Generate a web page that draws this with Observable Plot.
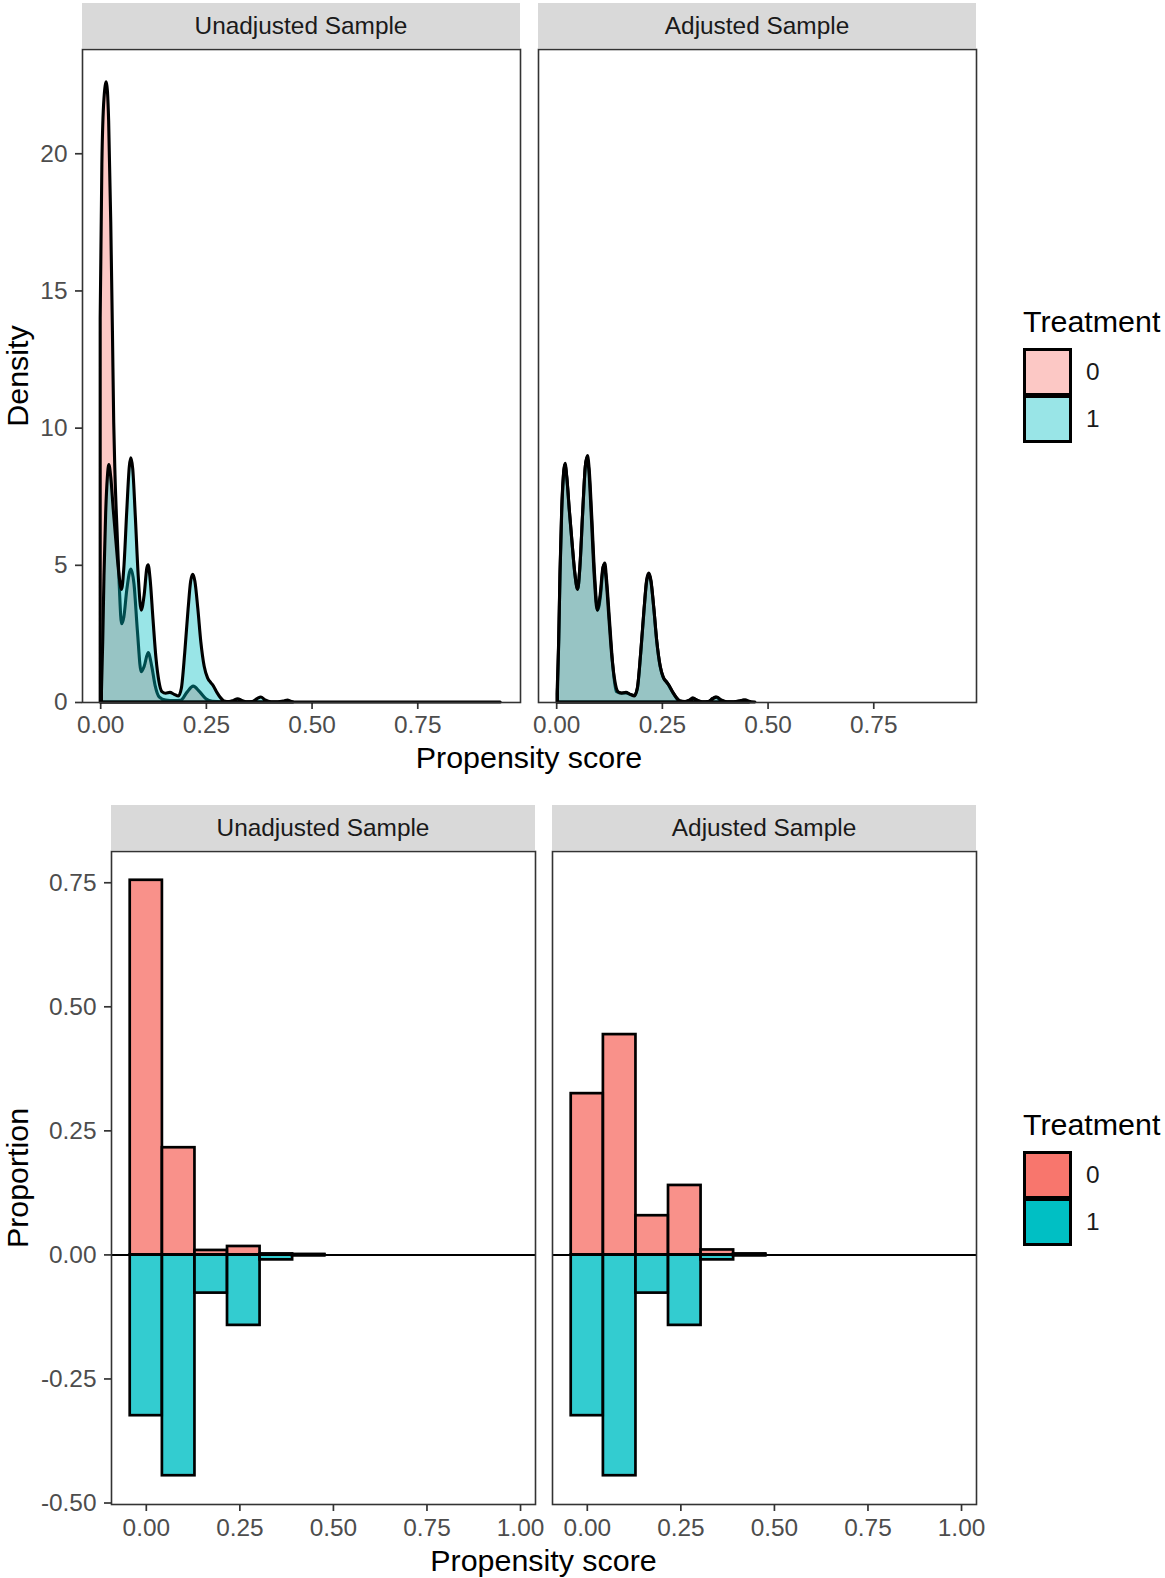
<!DOCTYPE html>
<html>
<head>
<meta charset="utf-8">
<script src="https://cdn.jsdelivr.net/npm/d3@7"></script>
<script src="https://cdn.jsdelivr.net/npm/@observablehq/plot@0.6"></script>
<style>
  body { margin: 0; background: #fff; }
  #root { position: relative; width: 1165px; height: 1578px; overflow: hidden; background: #fff;
          font-family: "Liberation Sans", Arial, sans-serif; }
  .box { position: absolute; }
  .strip { position: absolute; background: #D9D9D9; color: #1A1A1A; font-size: 24.4px;
           display: flex; align-items: center; justify-content: center; white-space: nowrap; }
  .title { position: absolute; font-size: 30.4px; color: #000; white-space: nowrap; line-height: 1; }
  .lab { position: absolute; font-size: 24.4px; color: #1A1A1A; line-height: 1; }
  .key { position: absolute; border: 3px solid #000; box-sizing: border-box; }
</style>
</head>
<body>
<div id="root"></div>
<script>
// ---------------- data ----------------
const facets = ["Unadjusted Sample", "Adjusted Sample"];
const treatmentLevels = ["0", "1"];
const densityTicks = [0, 5, 10, 15, 20];
const scoreTicksTop = [0, 0.25, 0.5, 0.75];
const scoreTicksBottom = [0, 0.25, 0.5, 0.75, 1];
const proportionTicks = [-0.5, -0.25, 0, 0.25, 0.5, 0.75];

// density curves: [propensity score, density]
const densUnadjControl = [
  [0.000, 14.0], [0.004, 19.6], [0.009, 22.0], [0.0145, 22.6], [0.020, 21.2], [0.025, 17.5],
  [0.029, 13.5], [0.032, 10.2], [0.035, 8.3], [0.040, 6.2], [0.045, 4.3], [0.0505, 2.85],
  [0.056, 3.1], [0.063, 4.1], [0.0725, 4.85], [0.080, 4.3], [0.088, 2.6], [0.097, 1.1],
  [0.104, 1.3], [0.1135, 1.8], [0.122, 1.3], [0.130, 0.6], [0.140, 0.18], [0.155, 0.07],
  [0.175, 0.05], [0.190, 0.06], [0.205, 0.35], [0.220, 0.58], [0.235, 0.38], [0.250, 0.12],
  [0.265, 0.03], [0.290, 0.01], [0.330, 0.005], [0.400, 0.002], [0.600, 0], [0.946, 0]
];
const densTreated = [
  [0.003, 0.4], [0.006, 2.2], [0.009, 4.6], [0.013, 6.9], [0.017, 8.2], [0.0205, 8.65],
  [0.025, 8.2], [0.031, 7.0], [0.037, 5.9], [0.044, 4.7], [0.0505, 4.1], [0.056, 4.9],
  [0.063, 7.0], [0.069, 8.6], [0.0726, 8.9], [0.077, 8.5], [0.083, 6.8], [0.090, 4.6],
  [0.097, 3.35], [0.104, 3.9], [0.1105, 4.9], [0.1135, 5.0], [0.118, 4.5], [0.125, 3.0],
  [0.132, 1.6], [0.139, 0.75], [0.146, 0.38], [0.155, 0.32], [0.165, 0.35], [0.175, 0.28],
  [0.185, 0.22], [0.192, 0.5], [0.200, 1.8], [0.208, 3.4], [0.214, 4.4], [0.219, 4.65],
  [0.224, 4.4], [0.231, 3.4], [0.238, 2.2], [0.246, 1.3], [0.254, 0.88], [0.262, 0.7],
  [0.268, 0.58], [0.276, 0.35], [0.285, 0.15], [0.293, 0.04], [0.305, 0.02], [0.315, 0.06],
  [0.325, 0.12], [0.335, 0.06], [0.345, 0.01], [0.360, 0.02], [0.372, 0.13], [0.380, 0.18],
  [0.390, 0.08], [0.404, 0.01], [0.420, 0.005], [0.435, 0.04], [0.443, 0.07], [0.450, 0.03],
  [0.456, 0.0]
];
const densAdjControl = [
  [0.002, 0.3], [0.006, 2.3], [0.009, 4.7], [0.013, 7.0], [0.017, 8.25], [0.021, 8.7],
  [0.025, 8.2], [0.031, 7.0], [0.037, 5.9], [0.044, 4.7], [0.051, 4.12], [0.056, 4.9],
  [0.063, 7.0], [0.069, 8.6], [0.074, 8.98], [0.078, 8.5], [0.084, 6.8], [0.091, 4.6],
  [0.098, 3.35], [0.105, 3.9], [0.111, 4.9], [0.115, 5.06], [0.119, 4.5], [0.126, 3.0],
  [0.133, 1.5], [0.142, 0.39], [0.155, 0.33], [0.166, 0.33], [0.176, 0.27], [0.185, 0.24],
  [0.192, 0.5], [0.200, 1.8], [0.208, 3.4], [0.214, 4.45], [0.219, 4.7], [0.224, 4.45],
  [0.231, 3.4], [0.238, 2.2], [0.246, 1.3], [0.252, 0.94], [0.263, 0.7], [0.270, 0.5],
  [0.280, 0.25], [0.290, 0.05], [0.305, 0.02], [0.315, 0.07], [0.323, 0.15], [0.333, 0.06],
  [0.345, 0.01], [0.360, 0.02], [0.370, 0.13], [0.377, 0.18], [0.388, 0.08], [0.402, 0.01],
  [0.420, 0.005], [0.438, 0.05], [0.447, 0.08], [0.456, 0.03], [0.470, 0.0]
];

// histogram bins and proportions
const binStart = [-0.043, 0.043, 0.130, 0.217, 0.304, 0.391, 0.477, 0.564, 0.651, 0.738, 0.825, 0.911];
const binEnd   = [0.043, 0.130, 0.217, 0.304, 0.391, 0.477, 0.564, 0.651, 0.738, 0.825, 0.911, 0.998];
const propUnadjControl = [0.755, 0.216, 0.009, 0.017, 0.002, 0.001, 0, 0, 0, 0, 0, 0];
const propUnadjTreated = [0.324, 0.445, 0.077, 0.142, 0.010, 0.002, 0, 0, 0, 0, 0, 0];
const propAdjControl   = [0.325, 0.444, 0.079, 0.140, 0.010, 0.002, 0, 0, 0, 0, 0, 0];
const propAdjTreated   = [0.324, 0.445, 0.077, 0.142, 0.010, 0.002, 0, 0, 0, 0, 0, 0];

// ---------------- styling ----------------
const RED = "#F8766D", CYAN = "#00BFC4";
const FONT = "'Liberation Sans', Arial, sans-serif";
const root = document.getElementById("root");
const fmt2 = d => d.toFixed(2);

function place(el, left, top) {
  const wrap = document.createElement("div");
  wrap.className = "box";
  wrap.style.left = left + "px";
  wrap.style.top = top + "px";
  wrap.appendChild(el);
  root.appendChild(wrap);
  return wrap;
}
function fixAxes(svg) {
  svg.style.maxWidth = "none";
  svg.querySelectorAll('g[aria-label^="x-axis"], g[aria-label^="y-axis"]').forEach(g => {
    g.querySelectorAll("line, path").forEach(el => {
      el.setAttribute("stroke", "#333333");
      el.setAttribute("stroke-width", "1.7");
    });
  });
}
function addDiv(cls, text, css) {
  const d = document.createElement("div");
  d.className = cls;
  d.textContent = text;
  Object.assign(d.style, css);
  root.appendChild(d);
  return d;
}

// ---------------- top: density ----------------
const T1 = 49, H1 = 653, W1 = 438, X1 = [82, 538];
function densityPanel(ctrl, trt, showY) {
  const mL = showY ? X1[0] : 0;
  const svg = Plot.plot({
    width: mL + W1, height: H1 + 60,
    marginLeft: mL, marginRight: 0, marginTop: 0, marginBottom: 60,
    style: { fontFamily: FONT, fontSize: "24.4px", color: "#4D4D4D", background: "transparent", overflow: "visible" },
    x: { domain: [-0.043, 0.993], ticks: scoreTicksTop, tickFormat: fmt2, tickSize: 7, tickPadding: 6, label: null },
    y: showY
      ? { domain: [0, 23.8], ticks: densityTicks, tickSize: 7, tickPadding: 8, label: null }
      : { domain: [0, 23.8], axis: null },
    marks: [
      Plot.areaY(ctrl, { x: d => d[0], y: d => d[1], fill: RED, fillOpacity: 0.4, stroke: "#000",
        strokeWidth: 3.1, strokeLinejoin: "round", curve: "monotone-x" }),
      Plot.areaY(trt, { x: d => d[0], y: d => d[1], fill: CYAN, fillOpacity: 0.4, stroke: "#000",
        strokeWidth: 3.1, strokeLinejoin: "round", curve: "monotone-x" }),
      Plot.frame({ stroke: "#333333", strokeWidth: 1.6 })
    ]
  });
  fixAxes(svg);
  return svg;
}
place(densityPanel(densUnadjControl, densTreated, true), 0, T1);
place(densityPanel(densAdjControl, densTreated, false), X1[1], T1);
facets.forEach((f, i) => addDiv("strip", f, { left: X1[i] + "px", top: "3px", width: W1 + "px", height: "45px" }));
addDiv("title", "Density", { left: "17px", top: (T1 + H1 / 2) + "px", transform: "translate(-50%,-50%) rotate(-90deg)" });
addDiv("title", "Propensity score", { left: ((X1[0] + X1[1] + W1) / 2) + "px", top: "757px", transform: "translate(-50%,-50%)" });

// ---------------- bottom: mirrored histogram ----------------
const T2 = 851, H2 = 653, W2 = 424, X2 = [111, 552];
function histPanel(ctrl, trt, showY) {
  const mL = showY ? X2[0] : 0;
  const up = binStart.map((s, i) => ({ x1: s, x2: binEnd[i], v: ctrl[i] }));
  const down = binStart.map((s, i) => ({ x1: s, x2: binEnd[i], v: -trt[i] }));
  const svg = Plot.plot({
    width: mL + W2, height: H2 + 60,
    marginLeft: mL, marginRight: 0, marginTop: 0, marginBottom: 60,
    style: { fontFamily: FONT, fontSize: "24.4px", color: "#4D4D4D", background: "transparent", overflow: "visible" },
    x: { domain: [-0.093, 1.040], ticks: scoreTicksBottom, tickFormat: fmt2, tickSize: 7, tickPadding: 7, label: null },
    y: showY
      ? { domain: [-0.503, 0.813], ticks: proportionTicks, tickFormat: fmt2, tickSize: 7, tickPadding: 8, label: null }
      : { domain: [-0.503, 0.813], axis: null },
    marks: [
      Plot.rect(up, { x1: "x1", x2: "x2", y1: 0, y2: "v", fill: RED, fillOpacity: 0.8, stroke: "#000", strokeWidth: 2.7, inset: 0 }),
      Plot.rect(down, { x1: "x1", x2: "x2", y1: 0, y2: "v", fill: CYAN, fillOpacity: 0.8, stroke: "#000", strokeWidth: 2.7, inset: 0 }),
      Plot.ruleY([0], { stroke: "#000", strokeWidth: 2 }),
      Plot.frame({ stroke: "#333333", strokeWidth: 1.6 })
    ]
  });
  fixAxes(svg);
  return svg;
}
place(histPanel(propUnadjControl, propUnadjTreated, true), 0, T2);
place(histPanel(propAdjControl, propAdjTreated, false), X2[1], T2);
facets.forEach((f, i) => addDiv("strip", f, { left: X2[i] + "px", top: "805px", width: W2 + "px", height: "45px" }));
addDiv("title", "Proportion", { left: "17px", top: (T2 + H2 / 2) + "px", transform: "translate(-50%,-50%) rotate(-90deg)" });
addDiv("title", "Propensity score", { left: ((X2[0] + X2[1] + W2) / 2) + "px", top: "1560px", transform: "translate(-50%,-50%)" });

// ---------------- legends ----------------
function legend(top, fills) {
  addDiv("title", "Treatment", { left: "1023px", top: top + "px", transform: "translateY(-50%)" });
  const keyTop = top + 27, kh = 48;
  treatmentLevels.forEach((lvl, i) => {
    addDiv("key", "", { left: "1023px", top: (keyTop + i * (kh - 1)) + "px", width: "49px", height: kh + "px", background: fills[i] });
    addDiv("lab", lvl, { left: "1086px", top: (keyTop + i * (kh - 1) + kh / 2) + "px", transform: "translateY(-50%)" });
  });
}
legend(321, ["rgba(248,118,109,0.4)", "rgba(0,191,196,0.4)"]);
legend(1124, [RED, CYAN]);
</script>
</body>
</html>
